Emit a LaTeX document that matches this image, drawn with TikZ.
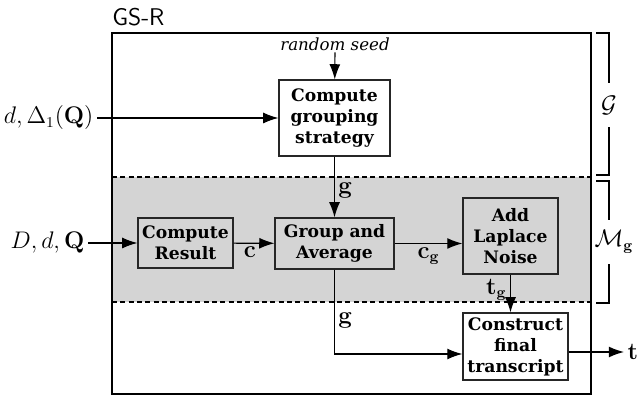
\documentclass[tikz,border=0pt]{standalone}
\usepackage{amsmath,amssymb}
\usepackage[no-math]{fontspec}
\newfontfamily\boxfont{DejaVu Serif}
\usepackage{xcolor}
\usepackage{tikz}
\usetikzlibrary{positioning,arrows.meta,calc}

\begin{document}
\begin{tikzpicture}[
		x=0.6pt,y=-0.6pt,
		stage/.style={draw=black!85,line width=0.7pt,align=center,inner sep=0pt,
			font=\boxfont\bfseries\fontsize{10.3}{12.6}\selectfont},
		flow/.style={-{Latex[length=3.2mm,width=2.3mm]},line width=0.7pt},
		sig label/.style={font=\fontsize{13.5}{15}\selectfont,inner sep=2pt},
		region line/.style={line width=0.7pt,dash pattern=on 3pt off 2pt},
		bracket/.style={line width=0.7pt},
		part label/.style={fill=white,inner sep=1pt,font=\fontsize{13.5}{15}\selectfont}
	]
		\useasboundingbox (0,0) rectangle (639,396);

		% Shaded band holding the mechanism, then the outer frame.
		\fill[black!17] (112,177) rectangle (590,302);
		\draw[line width=0.8pt] (112,33) rectangle (591,394);
		\draw[region line] (112,177) -- (592,177);
		\draw[region line] (112,302) -- (592,302);
		\node[font=\sffamily\fontsize{14.5}{16}\selectfont,anchor=south west,inner sep=0pt]
			(title) at (112,26) {GS-R};

		% Processing stages.
		\node[stage,minimum width=66.6pt,minimum height=45.6pt] (cgs) at (334.5,118)
			{Compute\\grouping\\strategy};
		\node[stage,minimum width=57pt,minimum height=30pt] (cr) at (185.5,243)
			{Compute\\Result};
		\node[stage,minimum width=71.4pt,minimum height=30.6pt] (ga) at (334.5,243.5)
			{Group and\\Average};
		\node[stage,minimum width=57pt,minimum height=45.6pt] (aln) at (510.5,236)
			{Add\\Laplace\\Noise};
		\node[stage,minimum width=63pt,minimum height=40.2pt] (cft) at (515.5,346.5)
			{Construct\\final\\transcript};

		% Inputs and output.
		\node[font=\boxfont\itshape\fontsize{10}{12}\selectfont,inner sep=1pt] (seed) at (335,44)
			{random seed};
		\node[sig label,anchor=east] (in1) at (97,118) {$d,\Delta_1(\mathbf{Q})$};
		\node[sig label,anchor=east] (in2) at (88,243) {$D,d,\mathbf{Q}$};
		\node[sig label,anchor=west] (out) at (624,352) {$\mathbf{t}$};
		\coordinate (g in) at ($(cft.west)+(0,7.5)$);

		% Connectors.
		\draw[flow] (seed) -- (cgs);
		\draw[flow] (in1) -- (cgs);
		\draw[flow] (in2) -- (cr);
		\draw[flow] (cgs) -- node[sig label,right,pos=0.55] {$\mathbf{g}$} (ga);
		\draw[flow] (cr) -- node[sig label,below,pos=0.4] {$\mathbf{c}$} (ga);
		\draw[flow] (ga.east) -- node[sig label,below] {$\mathbf{c}_{\mathbf{g}}$} (ga.east -| aln.west);
		\draw[flow] (aln.south) -- node[sig label,left,pos=0.4] {$\mathbf{t}_{\mathbf{g}}$} (aln.south |- cft.north);
		\draw[flow] (ga.south) |- node[sig label,right,pos=0.3] {$\mathbf{g}$} (g in);
		\draw[flow] (out -| cft.east) -- (out);

		% Brackets marking the two parts.
		\draw[bracket] (596,33) -- (609,33) -- (609,175) -- (596,175);
		\node[part label,minimum height=26pt] (calG) at (609,105) {$\mathcal{G}$};
		\draw[bracket] (596,181) -- (609,181) -- (609,303) -- (596,303);
		\node[part label,minimum height=26pt] (calM) at (614,242) {$\mathcal{M}_{\mathbf{g}}$};
	\end{tikzpicture}
\end{document}
